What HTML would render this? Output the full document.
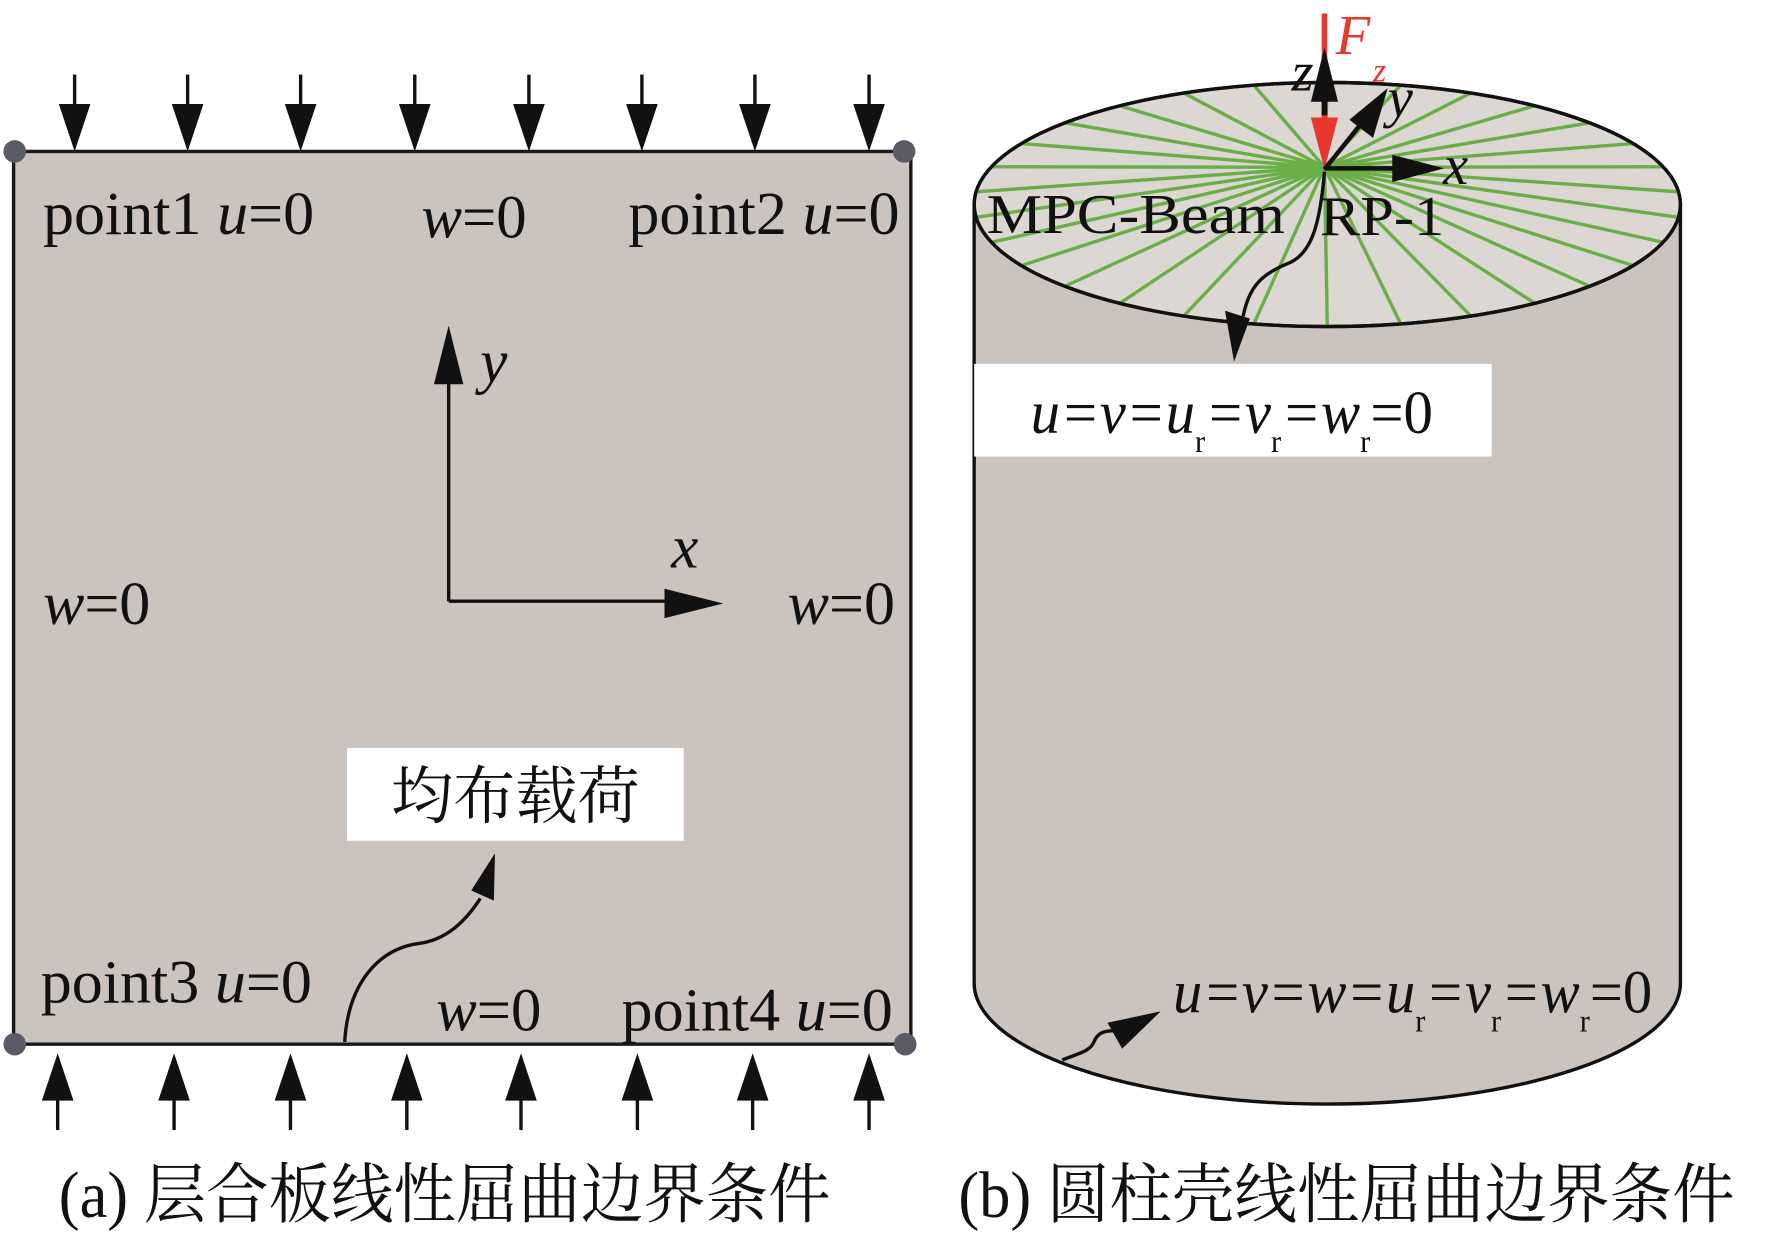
<!DOCTYPE html>
<html><head><meta charset="utf-8"><style>html,body{margin:0;padding:0;background:#fff}svg{display:block}</style></head>
<body>
<svg xmlns="http://www.w3.org/2000/svg" width="1772" height="1246" viewBox="0 0 1568 1102.6" font-family="'Liberation Serif','Noto Serif CJK SC',serif">
<rect width="1568" height="1103" fill="#fff"/>
<rect x="12" y="134" width="794" height="790" fill="#cbc3be" stroke="#1a1a1a" stroke-width="3"/>
<g fill="#5b5b66"><circle cx="13" cy="134" r="10"/><circle cx="800" cy="134" r="10"/><circle cx="13" cy="924" r="10"/><circle cx="801" cy="924" r="10"/></g>
<g stroke="#111" stroke-width="3" fill="#111" id="topArrows"></g>
<g stroke="#111" stroke-width="3" fill="#111" id="botArrows"></g>
<g font-size="54" fill="#111" lengthAdjust="spacingAndGlyphs">
<text x="38" y="207" textLength="240" lengthAdjust="spacingAndGlyphs">point1 <tspan font-style="italic">u</tspan>=0</text>
<text x="373" y="210" textLength="93" lengthAdjust="spacingAndGlyphs"><tspan font-style="italic">w</tspan>=0</text>
<text x="556" y="207" textLength="240" lengthAdjust="spacingAndGlyphs">point2 <tspan font-style="italic">u</tspan>=0</text>
<text x="38" y="552" textLength="95" lengthAdjust="spacingAndGlyphs"><tspan font-style="italic">w</tspan>=0</text>
<text x="697" y="552" textLength="95" lengthAdjust="spacingAndGlyphs"><tspan font-style="italic">w</tspan>=0</text>
<text x="36" y="887" textLength="240" lengthAdjust="spacingAndGlyphs">point3 <tspan font-style="italic">u</tspan>=0</text>
<text x="386" y="912" textLength="93" lengthAdjust="spacingAndGlyphs"><tspan font-style="italic">w</tspan>=0</text>
<text x="550" y="912" textLength="240" lengthAdjust="spacingAndGlyphs">point4 <tspan font-style="italic">u</tspan>=0</text>
<text x="425" y="338" font-style="italic">y</text>
<text x="594" y="502" font-style="italic">x</text>
</g>
<path d="M397 532 V330 M397 532 H600" stroke="#111" stroke-width="3" fill="none"/>
<polygon points="397,288 384,340 410,340" fill="#111"/>
<polygon points="640,534 588,521 588,547" fill="#111"/>
<rect x="307" y="662" width="298" height="82" fill="#fff"/>
<text x="456" y="724" font-size="56" text-anchor="middle" fill="#111" textLength="220" lengthAdjust="spacingAndGlyphs">均布载荷</text>
<path d="M305 922 C308 870 335 840 370 835 C395 832 412 815 425 795" stroke="#111" stroke-width="3" fill="none"/>
<polygon points="438,755 417,788 437,797" fill="#111"/>
<path d="M862 181 V870 A312.5 107 0 0 0 1487 870 V181 Z" fill="#cbc3be" stroke="#111" stroke-width="3"/>
<ellipse cx="1174.5" cy="181" rx="312.5" ry="108" fill="#ddd7d4" stroke="#111" stroke-width="3"/>
<g id="rays" stroke="#6aae47" stroke-width="3"></g>
<ellipse cx="1174.5" cy="181" rx="312.5" ry="108" fill="none" stroke="#111" stroke-width="3"/>
<line x1="1172" y1="12" x2="1172" y2="110" stroke="#e8372c" stroke-width="5"/>
<polygon points="1172,150 1160,104 1184,104" fill="#e8372c"/>
<line x1="1172" y1="80" x2="1172" y2="102" stroke="#111" stroke-width="5"/>
<polygon points="1172,42 1160,90 1184,90" fill="#111"/>
<line x1="1172" y1="150" x2="1208" y2="105" stroke="#111" stroke-width="4"/>
<polygon points="1228,78 1194,106 1215,122" fill="#111"/>
<line x1="1172" y1="149" x2="1240" y2="149" stroke="#111" stroke-width="4"/>
<polygon points="1278,149 1232,137 1232,161" fill="#111"/>
<g fill="#111" font-size="50">
<text x="1143" y="80" font-style="italic">z</text>
<text x="1228" y="103" font-style="italic">y</text>
<text x="1277" y="163" font-style="italic">x</text>
<text x="873" y="206" textLength="264" lengthAdjust="spacingAndGlyphs">MPC-Beam</text>
<text x="1168" y="208" textLength="110" lengthAdjust="spacingAndGlyphs">RP-1</text>
</g>
<text x="1182" y="48" fill="#e8372c" font-size="50" font-style="italic">F</text>
<text x="1215" y="72" fill="#e8372c" font-size="30" font-style="italic">z</text>
<path d="M1172 152 C1168 200 1160 225 1140 233 C1115 243 1105 255 1100 280" stroke="#111" stroke-width="3" fill="none"/>
<polygon points="1092,320 1084,275 1106,282" fill="#111"/>
<rect x="862" y="322" width="458" height="82" fill="#fff"/>
<g font-size="54" fill="#111" font-style="italic">
<text x="912" y="383" textLength="356" lengthAdjust="spacingAndGlyphs">u=v=u<tspan font-style="normal" font-size="28" dy="17">r</tspan><tspan dy="-17">=v</tspan><tspan font-style="normal" font-size="28" dy="17">r</tspan><tspan dy="-17">=w</tspan><tspan font-style="normal" font-size="28" dy="17">r</tspan><tspan dy="-17" font-style="normal">=0</tspan></text>
<text x="1038" y="896" textLength="424" lengthAdjust="spacingAndGlyphs">u=v=w=u<tspan font-style="normal" font-size="28" dy="17">r</tspan><tspan dy="-17">=v</tspan><tspan font-style="normal" font-size="28" dy="17">r</tspan><tspan dy="-17">=w</tspan><tspan font-style="normal" font-size="28" dy="17">r</tspan><tspan dy="-17" font-style="normal">=0</tspan></text>
</g>
<path d="M940 938 C955 932 965 930 968 922 C972 912 980 912 990 912" stroke="#111" stroke-width="3" fill="none"/>
<polygon points="1027,895 980,905 993,928" fill="#111"/>
<text x="52" y="1077" font-size="58" fill="#111" textLength="683" lengthAdjust="spacingAndGlyphs">(a) 层合板线性屈曲边界条件</text>
<text x="848" y="1077" font-size="58" fill="#111" textLength="687" lengthAdjust="spacingAndGlyphs">(b) 圆柱壳线性屈曲边界条件</text>
<script>
(function(){
var ns="http://www.w3.org/2000/svg";
function el(t,a,p){var e=document.createElementNS(ns,t);for(var k in a)e.setAttribute(k,a[k]);p.appendChild(e);}
var ta=document.getElementById("topArrows"),ba=document.getElementById("botArrows");
[66,166,266,367,468,568,668,769].forEach(function(x){el("line",{x1:x,y1:66,x2:x,y2:100},ta);el("polygon",{points:x+",134 "+(x-14)+",92 "+(x+14)+",92",stroke:"none"},ta);});
[51,154,257,360,461,564,666,769].forEach(function(x){el("line",{x1:x,y1:1000,x2:x,y2:965},ba);el("polygon",{points:x+",932 "+(x-14)+",974 "+(x+14)+",974",stroke:"none"},ba);});
var r=document.getElementById("rays");
for(var i=0;i<30;i++){var t=(i*12+6)*Math.PI/180;el("line",{x1:1172,y1:148,x2:(1174.5+312.5*Math.cos(t)).toFixed(1),y2:(181+108*Math.sin(t)).toFixed(1)},r);}
})();
</script>
</svg>
</body></html>
